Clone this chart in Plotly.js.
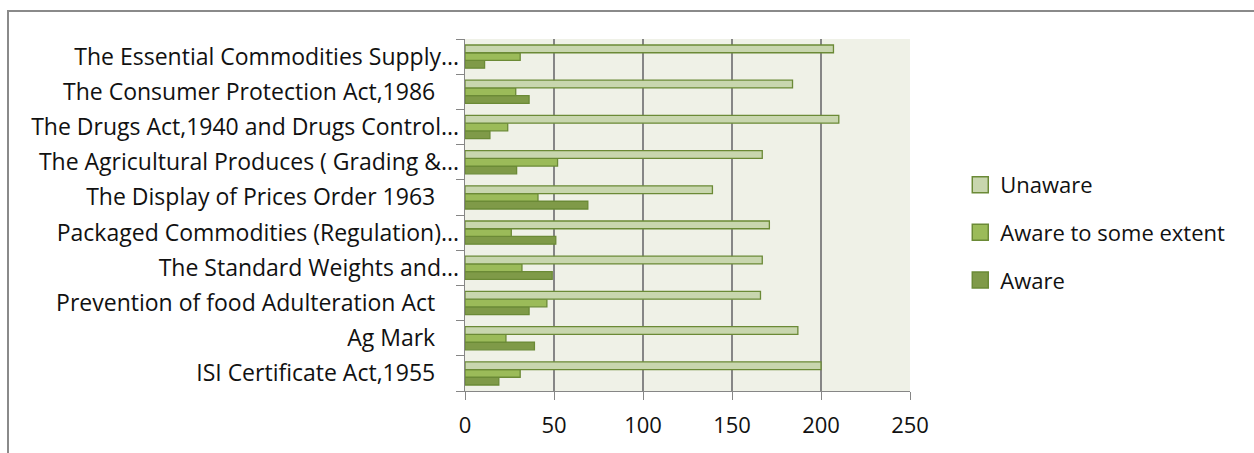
<!DOCTYPE html>
<html><head><meta charset="utf-8">
<script src="https://cdn.plot.ly/plotly-3.0.1.min.js"></script>
<style>
html,body{margin:0;padding:0;background:#fff;width:1254px;height:453px;overflow:hidden;}
#frame{position:absolute;left:7px;top:10px;width:1250px;height:460px;border:2px solid #8a8a8a;box-sizing:border-box;}
#chart{position:absolute;left:0;top:0;width:1254px;height:453px;}
</style></head>
<body>
<div id="frame"></div>
<div id="chart"></div>
<script>
var categories = [
  "ISI Certificate Act,1955\u00a0\u00a0\u00a0\u00a0",
  "Ag Mark\u00a0\u00a0\u00a0\u00a0",
  "Prevention of food Adulteration Act\u00a0\u00a0\u00a0\u00a0",
  "The Standard Weights and...",
  "Packaged Commodities (Regulation)...",
  "The Display of Prices Order 1963\u00a0\u00a0\u00a0\u00a0",
  "The Agricultural Produces ( Grading &...",
  "The Drugs Act,1940 and Drugs Control...",
  "The Consumer Protection Act,1986\u00a0\u00a0\u00a0\u00a0",
  "The Essential Commodities Supply..."
];
var aware          = [19, 39, 36, 49, 51, 69, 29, 14, 36, 11];
var awareSome      = [31, 23, 46, 32, 26, 41, 52, 24, 28.5, 31];
var unaware        = [200, 187, 166, 167, 171, 139, 167, 210, 184, 207];
var seriesNames = ["Aware", "Aware to some extent", "Unaware"];
var xTicks = [0, 50, 100, 150, 200, 250];

var fills = ["#7f9a48", "#9bbb59", "#c8d6ae"];
var edge = "#6b8a36";
var vals = [aware, awareSome, unaware];
var traces = vals.map(function(v, i){
  return {
    type: "bar", orientation: "h",
    x: v, y: categories, name: seriesNames[i],
    showlegend: false,
    marker: {color: fills[i], line: {color: edge, width: 1.3}},
    hoverinfo: "x+name"
  };
});
// legend entries (Unaware on top)
[2, 1, 0].forEach(function(i, k){
  traces.push({
    type: "scatter", mode: "markers", x: [null], y: [null],
    name: seriesNames[i], legendgroup: "g" + k, legendrank: k + 1,
    marker: {symbol: "square", size: 16, color: fills[i], line: {color: edge, width: 1.5}},
    hoverinfo: "skip"
  });
});

var font = "'Open Sans', Lato, sans-serif";
var layout = {
  width: 1254, height: 453,
  paper_bgcolor: "rgba(0,0,0,0)",
  plot_bgcolor: "#eff1e7",
  margin: {l: 465, r: 344, t: 39, b: 62},
  barmode: "group",
  bargap: 0.34, bargroupgap: 0,
  showlegend: true,
  legend: {
    x: 1.113, xanchor: "left", y: 0.645, yanchor: "top",
    traceorder: "grouped", tracegroupgap: 16,
    itemsizing: "trace",
    font: {family: font, size: 22, color: "#111"},
    bgcolor: "rgba(0,0,0,0)"
  },
  xaxis: {
    range: [0, 250], tickvals: xTicks, ticktext: xTicks.map(String),
    showgrid: true, gridcolor: "#868686", gridwidth: 1.2,
    zeroline: false, showline: true, linecolor: "#868686", linewidth: 1.3,
    ticks: "outside", ticklen: 8, tickcolor: "#868686",
    ticklabelstandoff: 6,
    tickfont: {family: font, size: 22, color: "#111"}, fixedrange: true
  },
  yaxis: {
    type: "category", categoryorder: "array", categoryarray: categories,
    showgrid: false, zeroline: false, showline: true, linecolor: "#868686", linewidth: 1.3,
    ticks: "outside", tickson: "boundaries", ticklen: 8, tickcolor: "#868686",
    tickfont: {family: font, size: 23, color: "#111"}, fixedrange: true
  }
};
Plotly.newPlot("chart", traces, layout, {displayModeBar: false, staticPlot: true});
</script>
</body></html>
